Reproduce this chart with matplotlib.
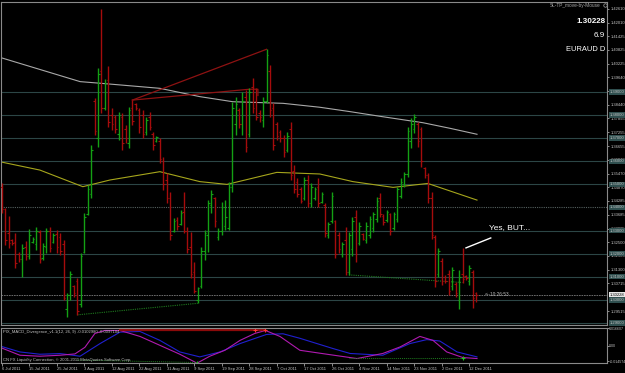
import matplotlib
matplotlib.use("Agg")
import matplotlib.pyplot as plt
import numpy as np

# EURAUD daily bars, 6 Jul 2011 .. 15 Dec 2011 (MT4 with Sunday bars)
opens = [
    1.3490, 1.3395, 1.3290, 1.3258, 1.3250, 1.3200, 1.3175, 1.3230, 1.3190, 1.3250,
    1.3240, 1.3295, 1.3180, 1.3230, 1.3300, 1.3250, 1.3285, 1.3270, 1.3240, 1.2960,
    1.3020, 1.3060, 1.3080, 1.2980, 1.3205, 1.3370, 1.3460, 1.3860, 1.3700, 1.3990,
    1.3830, 1.3950, 1.3800, 1.3790, 1.3720, 1.3790, 1.3740, 1.3680, 1.3830, 1.3850,
    1.3820, 1.3800, 1.3725, 1.3790, 1.3720, 1.3690, 1.3690, 1.3600, 1.3520, 1.3440,
    1.3300, 1.3345, 1.3330, 1.3380, 1.3300, 1.3230, 1.3120, 1.3000, 1.3060, 1.3210,
    1.3280, 1.3410, 1.3440, 1.3270, 1.3300, 1.3320, 1.3310, 1.3490, 1.3760, 1.3820,
    1.3760, 1.3880, 1.3720, 1.3920, 1.3860, 1.3810, 1.3780, 1.3860, 1.3990, 1.3830,
    1.3760, 1.3725, 1.3700, 1.3650, 1.3740, 1.3560, 1.3510, 1.3480, 1.3440, 1.3520,
    1.3420, 1.3440, 1.3490, 1.3425, 1.3410, 1.3280, 1.3340, 1.3340, 1.3280, 1.3200,
    1.3260, 1.3120, 1.3220, 1.3360, 1.3245, 1.3285, 1.3260, 1.3280, 1.3310, 1.3350,
    1.3440, 1.3365, 1.3345, 1.3370, 1.3310, 1.3350, 1.3450, 1.3500, 1.3545, 1.3690,
    1.3740, 1.3760, 1.3740, 1.3570, 1.3540, 1.3440, 1.3270, 1.3110, 1.3170, 1.3100,
    1.3110, 1.3060, 1.3070, 1.3000, 1.3110, 1.3105, 1.3080, 1.3120, 1.3030,
]
highs = [
    1.3506, 1.3396, 1.3363, 1.3262, 1.3291, 1.3209, 1.3241, 1.3256, 1.3305, 1.3274,
    1.3314, 1.3303, 1.3245, 1.3310, 1.3314, 1.3288, 1.3303, 1.3288, 1.3259, 1.3029,
    1.3127, 1.3065, 1.3093, 1.3202, 1.3375, 1.3498, 1.3671, 1.3873, 1.4002, 1.4258,
    1.3955, 1.4013, 1.3829, 1.3800, 1.3815, 1.3808, 1.3757, 1.3837, 1.3865, 1.3854,
    1.3829, 1.3822, 1.3793, 1.3815, 1.3728, 1.3710, 1.3699, 1.3620, 1.3548, 1.3469,
    1.3353, 1.3360, 1.3389, 1.3469, 1.3317, 1.3295, 1.3166, 1.3057, 1.3230, 1.3303,
    1.3432, 1.3476, 1.3447, 1.3310, 1.3425, 1.3432, 1.3512, 1.3858, 1.3880, 1.3829,
    1.3901, 1.3909, 1.3916, 1.3959, 1.3916, 1.3822, 1.3880, 1.4085, 1.4017, 1.3851,
    1.3772, 1.3735, 1.3714, 1.3728, 1.3772, 1.3584, 1.3526, 1.3490, 1.3534, 1.3541,
    1.3505, 1.3490, 1.3526, 1.3469, 1.3418, 1.3339, 1.3465, 1.3346, 1.3295, 1.3252,
    1.3317, 1.3295, 1.3358, 1.3389, 1.3339, 1.3288, 1.3335, 1.3363, 1.3382, 1.3447,
    1.3461, 1.3371, 1.3389, 1.3375, 1.3382, 1.3490, 1.3526, 1.3555, 1.3750, 1.3786,
    1.3805, 1.3768, 1.3750, 1.3577, 1.3548, 1.3465, 1.3281, 1.3223, 1.3180, 1.3108,
    1.3129, 1.3144, 1.3079, 1.3131, 1.3223, 1.3108, 1.3151, 1.3131, 1.3036,
]
lows = [
    1.3377, 1.3238, 1.3223, 1.3238, 1.3137, 1.3166, 1.3101, 1.3173, 1.3176, 1.3245,
    1.3216, 1.3158, 1.3173, 1.3202, 1.3209, 1.3245, 1.3202, 1.3194, 1.3000, 1.2927,
    1.3000, 1.3014, 1.2935, 1.2971, 1.3202, 1.3368, 1.3440, 1.3714, 1.3663, 1.3808,
    1.3822, 1.3750, 1.3735, 1.3721, 1.3692, 1.3649, 1.3678, 1.3656, 1.3757, 1.3822,
    1.3721, 1.3699, 1.3714, 1.3735, 1.3649, 1.3685, 1.3591, 1.3476, 1.3418, 1.3259,
    1.3295, 1.3303, 1.3324, 1.3288, 1.3202, 1.3093, 1.3029, 1.2985, 1.3050, 1.3173,
    1.3209, 1.3375, 1.3317, 1.3259, 1.3281, 1.3303, 1.3303, 1.3469, 1.3714, 1.3743,
    1.3714, 1.3642, 1.3707, 1.3808, 1.3779, 1.3772, 1.3750, 1.3851, 1.3793, 1.3649,
    1.3692, 1.3685, 1.3620, 1.3642, 1.3519, 1.3461, 1.3447, 1.3418, 1.3432, 1.3404,
    1.3404, 1.3432, 1.3404, 1.3418, 1.3274, 1.3267, 1.3331, 1.3180, 1.3202, 1.3187,
    1.3108, 1.3108, 1.3190, 1.3166, 1.3238, 1.3259, 1.3248, 1.3267, 1.3295, 1.3339,
    1.3360, 1.3324, 1.3339, 1.3281, 1.3303, 1.3339, 1.3440, 1.3490, 1.3534, 1.3656,
    1.3721, 1.3663, 1.3577, 1.3526, 1.3418, 1.3262, 1.3057, 1.3101, 1.3065, 1.3072,
    1.3022, 1.3043, 1.3014, 1.2959, 1.3075, 1.3086, 1.3065, 1.2963, 1.2992,
]
closes = [
    1.3395, 1.3260, 1.3245, 1.3245, 1.3160, 1.3175, 1.3225, 1.3190, 1.3280, 1.3265,
    1.3300, 1.3175, 1.3235, 1.3300, 1.3225, 1.3280, 1.3230, 1.3210, 1.3010, 1.3020,
    1.3110, 1.3030, 1.2950, 1.3190, 1.3360, 1.3480, 1.3650, 1.3730, 1.3980, 1.3830,
    1.3940, 1.3770, 1.3760, 1.3740, 1.3800, 1.3680, 1.3700, 1.3820, 1.3775, 1.3830,
    1.3750, 1.3720, 1.3780, 1.3750, 1.3670, 1.3705, 1.3610, 1.3500, 1.3440, 1.3280,
    1.3340, 1.3320, 1.3375, 1.3300, 1.3220, 1.3110, 1.3040, 1.3050, 1.3210, 1.3290,
    1.3420, 1.3460, 1.3340, 1.3300, 1.3400, 1.3360, 1.3490, 1.3830, 1.3850, 1.3760,
    1.3860, 1.3660, 1.3900, 1.3830, 1.3790, 1.3790, 1.3860, 1.4060, 1.3820, 1.3670,
    1.3710, 1.3700, 1.3640, 1.3710, 1.3540, 1.3480, 1.3460, 1.3430, 1.3520, 1.3420,
    1.3490, 1.3480, 1.3420, 1.3460, 1.3290, 1.3330, 1.3450, 1.3200, 1.3220, 1.3240,
    1.3120, 1.3280, 1.3340, 1.3200, 1.3320, 1.3265, 1.3320, 1.3350, 1.3370, 1.3430,
    1.3370, 1.3335, 1.3380, 1.3300, 1.3370, 1.3480, 1.3510, 1.3545, 1.3730, 1.3760,
    1.3790, 1.3690, 1.3600, 1.3540, 1.3440, 1.3280, 1.3080, 1.3210, 1.3080, 1.3080,
    1.3040, 1.3130, 1.3030, 1.3100, 1.3090, 1.3095, 1.3140, 1.3010, 1.30228,
]

date_labels = ["6 Jul 2011", "15 Jul 2011", "25 Jul 2011", "3 Aug 2011", "12 Aug 2011",
               "22 Aug 2011", "31 Aug 2011", "9 Sep 2011", "19 Sep 2011", "28 Sep 2011",
               "7 Oct 2011", "17 Oct 2011", "26 Oct 2011", "4 Nov 2011", "14 Nov 2011",
               "23 Nov 2011", "2 Dec 2011", "12 Dec 2011"]
date_bars = [0, 8, 16, 24, 32, 40, 48, 56, 64, 72, 80, 88, 96, 104, 112, 120, 128, 136]

# moving averages (read at a few bars)
ma_slow_bars = [-0.5, 22.8, 28.6, 46, 57.6, 67.2, 81.8, 92.5, 101.3, 110.8, 122.5, 130.3, 138.2]
ma_slow = [1.4050, 1.3945, 1.3938, 1.3916, 1.3880, 1.3858, 1.3851, 1.3834, 1.3815,
           1.3793, 1.3767, 1.3743, 1.3717]
ma_fast_bars = [-0.5, 11.1, 23.6, 31.5, 46, 57.6, 65.5, 80, 92.5, 102.1, 113.8, 123.9, 138.2]
ma_fast = [1.3598, 1.3562, 1.3490, 1.3519, 1.3555, 1.3512, 1.3500, 1.3552, 1.3545,
           1.3512, 1.3487, 1.3504, 1.3432]

# MACD sub-window
macd_bars = [-0.5, 5.3, 11.1, 17, 21.3, 24.2, 27.1, 30, 34.4, 40.2, 46, 51.8, 56.8, 60.5,
             64.9, 69.3, 73.6, 76.7, 80.9, 86.7, 94.6, 103.3, 110.8, 115.8, 121.6, 125.4,
             129.4, 134.1, 138.2]
macd = [-0.0012, -0.0084, -0.0093, -0.0084, -0.0072, -0.0012, 0.0114, 0.0141, 0.0141,
        0.0087, 0.0006, -0.0075, -0.0156, -0.0093, -0.0039, 0.0051, 0.0114, 0.0141, 0.0087,
        -0.0039, -0.0075, -0.0114, -0.0068, -0.0009, 0.0087, 0.0051, -0.0054, -0.0105, -0.0114]
signal_bars = [-0.5, 5.3, 11.1, 17, 22.8, 28.6, 34.4, 40.2, 46, 51.8, 57.6, 63.5, 69.3,
               77, 81.8, 86.7, 96.3, 101.3, 110.8, 118.7, 123.6, 127.4, 132.4, 138.2]
signal = [0.0, -0.0054, -0.0075, -0.0069, -0.0093, 0.0022, 0.0126, 0.0132, 0.0051, -0.0054,
          -0.0099, -0.0054, 0.0022, 0.0105, 0.0111, 0.0070, -0.0023, -0.0068, -0.0084,
          0.0022, 0.0058, 0.0045, -0.0054, -0.0099]

price_ticks = [1.42610, 1.42010, 1.41425, 1.40825, 1.40225, 1.39640, 1.39040, 1.38440,
               1.37855, 1.37255, 1.36655, 1.36070, 1.35470, 1.34870, 1.34285, 1.33685,
               1.33085, 1.32500, 1.31900, 1.31300, 1.30715, 1.29515]
levels = [1.39, 1.38, 1.37, 1.36, 1.35, 1.34, 1.33, 1.32, 1.31, 1.30, 1.29]
last_price = 1.30228

UP = "#14a014"
DOWN = "#a50c0c"
GRID = "#2c4646"
FRAME = "#8a8a8a"
TXT = "#c4c4c4"
W, H = 625, 373


def box(x0, y0, x1, y1):
    return [x0 / W, 1 - y1 / H, (x1 - x0) / W, (y1 - y0) / H]


fig = plt.figure(figsize=(6.25, 3.73), dpi=100, facecolor="black")
ax = fig.add_axes(box(1, 1.5, 607, 325), facecolor="black")
ind = fig.add_axes(box(1, 327.5, 607, 362.5), facecolor="black", sharex=ax)

for a in (ax, ind):
    for s in a.spines.values():
        s.set_color(FRAME)
        s.set_linewidth(0.8)

x = np.arange(len(closes))
o = np.array(opens)
c = np.array(closes)
cols = [UP if cc >= oo else DOWN for oo, cc in zip(o, c)]

# horizontal levels and current price
for lv in levels:
    if lv == 1.34:
        ax.axhline(lv, color="#55605f", lw=0.8, ls=(0, (1, 1)), zorder=1)
    else:
        ax.axhline(lv, color=GRID, lw=0.8, zorder=1)
ax.axhline(last_price, color="#7c7c7c", lw=0.6, ls=(0, (2, 1)), zorder=1)

# moving averages
ax.plot(ma_slow_bars, ma_slow, color="#a9a9a9", lw=0.8, zorder=2)
ax.plot(ma_fast_bars, ma_fast, color="#a6a61c", lw=0.8, zorder=2)

# trend lines
ax.plot([38, 77], [highs[38], highs[77]], color="#8e1212", lw=0.9, zorder=2)
ax.plot([38, 72, 74.5, 74.5], [highs[38], 1.3912, 1.3912, 1.3885], color="#8e1212",
        lw=0.9, zorder=2)
ax.plot([22, 57], [lows[22], lows[57]], color="#1e7a1e", lw=0.8, ls=(0, (1, 1)), zorder=2)
ax.plot([101, 134], [lows[101], 1.3075], color="#1e7a1e", lw=0.8, ls=(0, (1, 1)), zorder=2)

# OHLC bars
ax.vlines(x, lows, highs, colors=cols, lw=1.0, zorder=3)
ax.hlines(o, x - 0.45, x, colors=cols, lw=0.8, zorder=3)
ax.hlines(c, x, x + 0.45, colors=cols, lw=0.8, zorder=3)

ax.set_xlim(-0.2, 176)
ax.set_ylim(1.2891, 1.4292)

ax.yaxis.tick_right()
ax.set_yticks(price_ticks)
ax.set_yticklabels([f"{t:.5f}" for t in price_ticks], family="Liberation Sans")
ax.tick_params(axis="y", labelsize=3, colors=TXT, length=1.5, width=0.5, pad=1)
ax.tick_params(axis="x", bottom=False, labelbottom=False)

tr = ax.get_yaxis_transform()
for lv in levels:
    ax.text(1.004, lv, f"{lv:.5f}", transform=tr, fontsize=3, color=TXT,
            family="Liberation Sans", va="center", ha="left", clip_on=False,
            bbox=dict(facecolor="#2f4f4f", edgecolor="none", pad=0.5))
ax.text(1.004, last_price, f"{last_price:.5f}", transform=tr, fontsize=3, color="black",
        family="Liberation Sans", va="center", ha="left", clip_on=False,
        bbox=dict(facecolor="#e8e8e8", edgecolor="none", pad=0.5))

# info block top right
ax.text(0.990, 0.989, "SL-TP_move-by-Mouse", transform=ax.transAxes, fontsize=3.4,
        color="#a8a8a8", ha="right", va="center", family="Liberation Sans")
ax.plot([0.996], [0.989], transform=ax.transAxes, marker="o", ms=2.5, mfc="none",
        mec="#a8a8a8", mew=0.5, clip_on=False)
ax.text(0.997, 0.937, "1.30228", transform=ax.transAxes, fontsize=5.8, color="white",
        fontweight="bold", ha="right", va="center", family="Liberation Sans")
ax.text(0.997, 0.894, "6.9", transform=ax.transAxes, fontsize=5.8, color="white",
        ha="right", va="center", family="Liberation Sans")
ax.text(0.997, 0.853, "EURAUD D", transform=ax.transAxes, fontsize=5.4, color="white",
        ha="right", va="center", family="Liberation Sans")

# note
ax.plot([135, 142.2], [1.3225, 1.3268], color="white", lw=1.0, zorder=4)
ax.text(141.6, 1.3311, "Yes, BUT...", fontsize=6, color="white", ha="left", va="center",
        family="Liberation Sans")
ax.text(140.6, last_price, "<--10:26:53", fontsize=3.4, color="#bdbdbd", ha="left",
        va="center", family="Liberation Sans")

# MACD window
ind.plot(signal_bars, signal, color="#2020d0", lw=0.8)
ind.plot(macd_bars, macd, color="#b01ab0", lw=0.8)
ind.plot([34.5, 76.7], [0.0141, 0.0141], color="#8b0a0a", lw=1.6)
ind.plot([73.6, 76.7], [0.0141, 0.0141], ls="none", marker="+", ms=3, mew=0.8,
         color="#ff3030")
ind.plot([22, 56.8], [-0.0128, -0.0150], color="#1e7a1e", lw=0.7, ls=(0, (1, 1)))
ind.plot([101, 134.1], [-0.0112, -0.0112], color="#1e7a1e", lw=0.7, ls=(0, (1, 1)))
ind.plot([56.8, 134.1], [-0.0150, -0.0112], ls="none", marker="+", ms=3, mew=0.8,
         color="#20c020")
ind.set_ylim(-0.0150, 0.0168)
ind.yaxis.tick_right()
ind.set_yticks([0.0160, 0.0, -0.0140])
ind.set_yticklabels(["0.016607", "0.00", "-0.014574"], family="Liberation Sans")
ind.tick_params(axis="y", labelsize=2.6, colors=TXT, length=1.2, width=0.5, pad=0.5)

ind.set_xticks(date_bars)
ind.set_xticklabels(date_labels, family="Liberation Sans", ha="left")
ind.tick_params(axis="x", labelsize=3, colors=TXT, length=2, width=0.5, pad=1.5)

ind.text(0.003, 0.88, "PIX_MACD_Divergence_v1.1(12, 26, 9) -0.0102980 -0.0097104",
         transform=ind.transAxes, fontsize=3, color=TXT, ha="left", va="center",
         family="Liberation Sans")
ind.text(0.003, 0.08, "CN FX Liquidity Connection, \u00a9 2001-2011 MetaQuotes Software Corp.",
         transform=ind.transAxes, fontsize=3, color=TXT, ha="left", va="center",
         family="Liberation Sans")

fig.savefig("out.png", dpi=100, facecolor="black")
